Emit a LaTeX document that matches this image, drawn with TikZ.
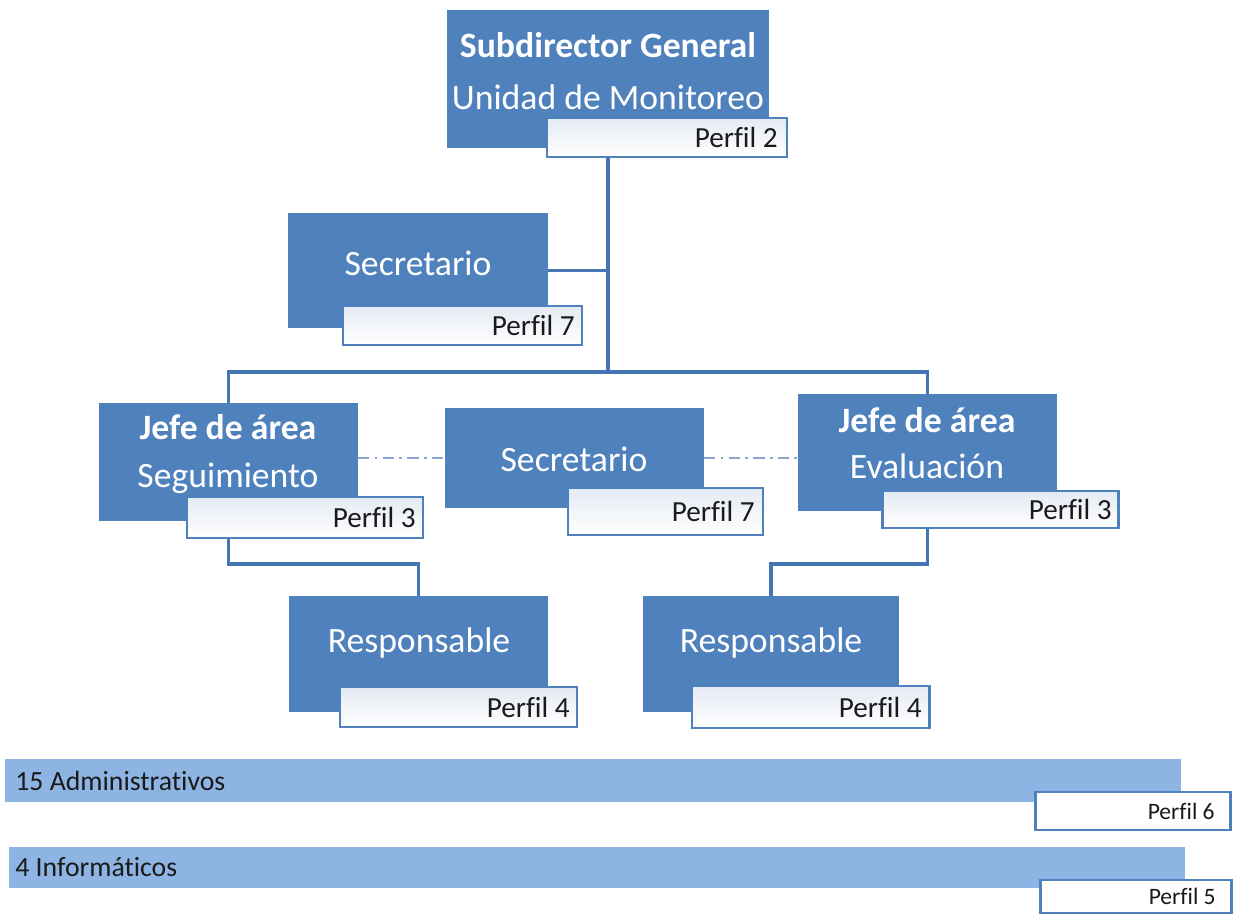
\documentclass[tikz,border=0pt]{standalone}
\usepackage{fontspec}
\setmainfont[Ligatures=NoCommon]{Carlito}
\usetikzlibrary{fit,calc}

\definecolor{unitblue}{HTML}{4F81BD}
\definecolor{linkblue}{HTML}{4676B2}
\definecolor{barblue}{HTML}{8DB4E2}
\definecolor{tagtop}{HTML}{E4EAF3}
\definecolor{dotblue}{HTML}{86A6CE}
\definecolor{inkdark}{HTML}{1A1A1A}

\pgfdeclarelayer{paper}
\pgfdeclarelayer{links}
\pgfsetlayers{paper,links,main}

\tikzset{
  unitbox/.style={fill=unitblue, inner sep=0pt, outer sep=0pt},
  tagbox/.style={draw=unitblue, line width=1.7pt, inner sep=0pt, outer sep=0pt,
                 top color=tagtop, bottom color=white},
  bartag/.style={draw=unitblue, line width=1.7pt, inner sep=0pt, outer sep=0pt, fill=white},
  barbox/.style={fill=barblue, inner sep=0pt, outer sep=0pt},
  unittext/.style={text=white, align=center, inner sep=0pt,
                   font=\fontsize{20.3}{27}\selectfont},
  tagtext/.style={text=inkdark, anchor=east, inner sep=0pt,
                  font=\fontsize{16.6}{18}\selectfont},
  bartext/.style={text=inkdark, anchor=west, inner sep=0pt,
                  font=\fontsize{15.8}{17}\selectfont},
  bartagtext/.style={text=inkdark, anchor=east, inner sep=0pt,
                     font=\fontsize{13.4}{15}\selectfont},
  link/.style={draw=linkblue, line width=2pt},
  peerlink/.style={draw=dotblue, line width=1.3pt,
                   dash pattern=on 6.5pt off 3pt on 1.5pt off 3pt},
}

\begin{document}
\begin{tikzpicture}[x=0.02cm, y=-0.02cm]
  \begin{pgfonlayer}{paper}
    \fill[white] (0,0) rectangle (1235,915);
  \end{pgfonlayer}
  \useasboundingbox (0,0) rectangle (1235,915);

  % Subdirector General
  \node[unitbox, fit={(447,10) (769,148)}] (sdg) {};
  \node[unittext, font=\fontsize{20.3}{29.5}\selectfont] (sdg-t) at (608,71)
    {\textbf{Subdirector General}\\Unidad de Monitoreo};
  \node[tagbox, fit={(547,118) (787,157)}] (sdg-p) {};
  \node[tagtext] (sdg-pt) at ($(sdg-p.east)+(-9,0)$) {Perfil 2};

  % Secretario (staff of the Subdirector)
  \node[unitbox, fit={(288,213) (548,328)}] (sec1) {};
  \node[unittext] (sec1-t) at (418,263) {Secretario};
  \node[tagbox, fit={(343,306) (582,345)}] (sec1-p) {};
  \node[tagtext] (sec1-pt) at ($(sec1-p.east)+(-7,0)$) {Perfil 7};

  % Jefe de area - Seguimiento
  \node[unitbox, fit={(99,403) (358,521)}] (jseg) {};
  \node[unittext, font=\fontsize{20.3}{27.2}\selectfont] (jseg-t) at (228,454)
    {\textbf{Jefe de área}\\Seguimiento};
  \node[tagbox, fit={(187,497) (423,538)}] (jseg-p) {};
  \node[tagtext] (jseg-pt) at ($(jseg-p.east)+(-7,0)$) {Perfil 3};

  % Secretario (shared by both areas)
  \node[unitbox, fit={(445,408) (704,508)}] (sec2) {};
  \node[unittext] (sec2-t) at (574,459) {Secretario};
  \node[tagbox, fit={(568,488) (763,535)}] (sec2-p) {};
  \node[tagtext] (sec2-pt) at ($(sec2-p.east)+(-8,0)$) {Perfil 7};

  % Jefe de area - Evaluacion
  \node[unitbox, fit={(798,394) (1057,511)}] (jeval) {};
  \node[unittext, font=\fontsize{20.3}{26.6}\selectfont] (jeval-t) at (927,443)
    {\textbf{Jefe de área}\\Evaluación};
  \node[tagbox, fit={(882,491) (1118,528)}] (jeval-p) {};
  \node[tagtext] (jeval-pt) at ($(jeval-p.east)+(-6,0)$) {Perfil 3};

  % Responsables
  \node[unitbox, fit={(289,596) (548,712)}] (resp1) {};
  \node[unittext] (resp1-t) at (419,643) {Responsable};
  \node[tagbox, fit={(340,687) (577,727)}] (resp1-p) {};
  \node[tagtext] (resp1-pt) at ($(resp1-p.east)+(-7,0)$) {Perfil 4};

  \node[unitbox, fit={(643,596) (899,712)}] (resp2) {};
  \node[unittext] (resp2-t) at (771,643) {Responsable};
  \node[tagbox, fit={(692,686) (929,728)}] (resp2-p) {};
  \node[tagtext] (resp2-pt) at ($(resp2-p.east)+(-7,0)$) {Perfil 4};

  % Support staff bars
  \node[barbox, fit={(5,759) (1181,802)}] (adm) {};
  \node[bartext] (adm-t) at (15,781) {15 Administrativos};
  \node[bartag, fit={(1035,792) (1230,830)}] (adm-p) {};
  \node[bartagtext] (adm-pt) at ($(adm-p.east)+(-15,0)$) {Perfil 6};

  \node[barbox, fit={(9,847) (1185,888)}] (inf) {};
  \node[bartext] (inf-t) at (15,867) {4 Informáticos};
  \node[bartag, fit={(1040,880) (1231,913)}] (inf-p) {};
  \node[bartagtext] (inf-pt) at ($(inf-p.east)+(-15,0)$) {Perfil 5};

  % Connectors, kept underneath the boxes
  \coordinate (hub) at (608,372);
  \coordinate (lower) at (0,564);
  \begin{pgfonlayer}{links}
    \draw[link] (sdg.south) -- (hub);
    \draw[link] (sec1.east) -- (sec1.east -| hub);
    \draw[link] (jseg.north) |- (hub) -| (jeval.north);
    \draw[link] (jseg.south) -- (jseg.south |- lower) -| (resp1.north);
    \draw[link] (jeval.south) -- (jeval.south |- lower) -| (resp2.north);
    \draw[peerlink] (sec2.west -| jseg.east) -- (sec2.west);
    \draw[peerlink] (sec2.east) -- (sec2.east -| jeval.west);
  \end{pgfonlayer}
\end{tikzpicture}
\end{document}
